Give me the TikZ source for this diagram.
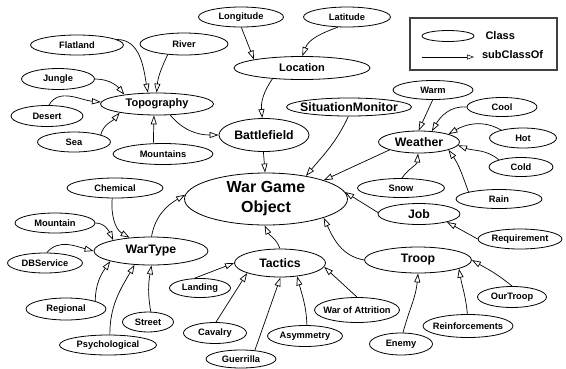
\documentclass[tikz,border=0pt]{standalone}
\usepackage{fontspec}
\setmainfont{Liberation Sans}
\usetikzlibrary{arrows.meta,shapes.geometric}
\tikzset{
  cls/.style={ellipse,draw,line width=0.8pt,inner xsep=-6pt,inner ysep=0pt,minimum height=20pt,font=\fontsize{9.3}{11}\selectfont\bfseries},
  mcls/.style={cls,font=\fontsize{11}{13}\selectfont\bfseries},
  bcls/.style={cls,font=\fontsize{12.3}{14}\selectfont\bfseries},
  sub/.style={-{Triangle[open,length=9pt,width=6pt]},line width=0.7pt},
}
\begin{document}
\begin{tikzpicture}[x=1pt,y=1pt]
  \useasboundingbox (0,0) rectangle (566,-368);
  % top left: topography and location
  \node[cls,minimum width=93pt] (flatland) at (77,-45) {Flatland};
  \node[cls,minimum width=88pt,minimum height=22pt] (river) at (184,-44) {River};
  \node[cls,minimum width=73pt,minimum height=21pt] (jungle) at (58,-79) {Jungle};
  \node[mcls,minimum width=113pt,minimum height=22pt] (topography) at (157,-104) {Topography};
  \node[cls,minimum width=72pt,minimum height=21pt] (desert) at (47,-116) {Desert};
  \node[cls,minimum width=73pt] (sea) at (74,-142) {Sea};
  \node[cls,minimum width=100pt,minimum height=21pt] (mountains) at (163,-154) {Mountains};
  \node[bcls,minimum width=90pt,minimum height=33pt] (battlefield) at (264,-135) {Battlefield};
  \node[mcls,minimum width=136pt,minimum height=23pt] (location) at (302,-68) {Location};
  \node[cls,minimum width=85pt] (longitude) at (241,-17) {Longitude};
  \node[cls,minimum width=87pt] (latitude) at (347,-17) {Latitude};
  \node[bcls,minimum width=125pt,minimum height=18pt] (monitor) at (349,-107) {SituationMonitor};
  % right: weather, job, troop
  \node[cls,minimum width=80pt,minimum height=19pt] (warm) at (433,-90) {Warm};
  \node[cls,minimum width=70pt,minimum height=19pt] (cool) at (502,-107) {Cool};
  \node[cls,minimum width=67pt] (hot) at (523,-138) {Hot};
  \node[cls,minimum width=64pt,minimum height=19pt] (cold) at (521,-167) {Cold};
  \node[bcls,minimum width=81pt,minimum height=22pt] (weather) at (419,-142) {Weather};
  \node[cls,minimum width=87pt,minimum height=19pt] (snow) at (401,-188) {Snow};
  \node[cls,minimum width=86pt,minimum height=19pt] (rain) at (499,-199) {Rain};
  \node[bcls,minimum width=82pt,minimum height=21pt] (job) at (419,-214) {Job};
  \node[cls,minimum width=84pt] (requirement) at (520,-239) {Requirement};
  \node[bcls,minimum width=107pt,minimum height=26pt] (troop) at (418,-260) {Troop};
  \node[cls,minimum width=69pt,minimum height=21pt] (ourtroop) at (512,-297) {OurTroop};
  \node[cls,minimum width=90pt,minimum height=23pt] (reinforcements) at (468,-326) {Reinforcements};
  \node[cls,minimum width=63pt,minimum height=22pt] (enemy) at (401,-344) {Enemy};
  % bottom: tactics
  \node[cls,minimum width=85pt,minimum height=25pt] (attrition) at (357,-310) {War of Attrition};
  \node[cls,minimum width=75pt,minimum height=21pt] (asymmetry) at (305,-336) {Asymmetry};
  \node[cls,minimum width=70pt,minimum height=18pt] (guerrilla) at (241,-359) {Guerrilla};
  \node[cls,minimum width=63pt,minimum height=21pt] (cavalry) at (215,-333) {Cavalry};
  \node[cls,minimum width=61pt,minimum height=19pt] (landing) at (200,-288) {Landing};
  \node[bcls,minimum width=91pt,minimum height=28pt] (tactics) at (280,-263) {Tactics};
  \node[cls,font=\fontsize{16}{20}\selectfont\bfseries,align=center,minimum width=163pt,minimum height=52pt] (wgo) at (266,-199) {War Game\\Object};
  % left: war type
  \node[cls,minimum width=96pt] (chemical) at (115,-188) {Chemical};
  \node[cls,minimum width=80pt] (mountain) at (55,-223) {Mountain};
  \node[bcls,minimum width=114pt,minimum height=28pt] (wartype) at (151,-251) {WarType};
  \node[cls,minimum width=75pt] (dbservice) at (45,-263) {DBService};
  \node[cls,minimum width=80pt,minimum height=22pt] (regional) at (66,-309) {Regional};
  \node[cls,minimum width=51pt] (street) at (148,-322) {Street};
  \node[cls,minimum width=97pt] (psychological) at (108,-345) {Psychological};
  % legend
  \node[draw=black!75,line width=1.2pt,minimum width=147pt,minimum height=52pt] (legend) at (483.5,-44) {};
  \node[cls,minimum width=52pt,minimum height=11pt] (legclass) at (448,-36) {};
  \node[anchor=west,font=\fontsize{11}{13}\selectfont\bfseries] (legclasstxt) at (482,-36) {Class};
  \coordinate (legfrom) at (422,-57);
  \coordinate (legto) at (474,-57);
  \draw[sub,line width=0.5pt,-{Triangle[open,length=7pt,width=5pt]}] (legfrom) -- (legto);
  \node[anchor=west,font=\fontsize{11}{13}\selectfont\bfseries] (legsubtxt) at (478.5,-55) {subClassOf};
  % subClassOf links
  \draw[sub] (flatland.8) to[out=0,in=100] (topography.129);
  \draw[sub] (river.213) to[out=245,in=85] (topography.92);
  \draw[sub] (jungle.0) to[out=0,in=130] (topography.164);
  \draw[sub] (desert.80) to[out=60,in=175] (topography.178);
  \draw[sub] (sea.15) to[out=75,in=230] (topography.193);
  \draw[sub] (mountains.132) -- (topography.255);
  \draw[sub] (topography.320) to[out=-50,in=180] (battlefield.180);
  \draw[sub] (longitude.272) -- (location.170);
  \draw[sub] (latitude.228) to[out=200,in=70] (location.88);
  \draw[sub] (location.200) to[out=235,in=95] (battlefield.96);
  \draw[sub] (battlefield.268) -- (wgo.92);
  \draw[sub] (monitor.266) to[out=245,in=50] (wgo.30);
  \draw[sub] (weather.195) -- (wgo.18);
  \draw[sub] (warm.268) -- (weather.92);
  \draw[sub] (cool.180) to[out=175,in=60] (weather.40);
  \draw[sub] (hot.160) to[out=150,in=30] (weather.15);
  \draw[sub] (cold.162) to[out=140,in=-20] (weather.355);
  \draw[sub] (snow.85) to[out=55,in=265] (weather.265);
  \draw[sub] (rain.167) to[out=110,in=-55] (weather.345);
  \draw[sub] (job.178) -- (wgo.5);
  \draw[sub] (requirement.180) -- (job.344);
  \draw[sub] (troop.180) to[out=170,in=-65] (wgo.342);
  \draw[sub] (ourtroop.90) to[out=140,in=-30] (troop.0);
  \draw[sub] (reinforcements.93) to[out=95,in=-80] (troop.348);
  \draw[sub] (enemy.80) to[out=75,in=265] (troop.270);
  \draw[sub] (tactics.90) to[out=110,in=-65] (wgo.267);
  \draw[sub] (landing.120) -- (tactics.180);
  \draw[sub] (cavalry.85) -- (tactics.197);
  \draw[sub] (guerrilla.32) -- (tactics.272);
  \draw[sub] (asymmetry.80) to[out=92,in=285] (tactics.322);
  \draw[sub] (attrition.90) -- (tactics.355);
  \draw[sub] (wartype.88) to[out=80,in=210] (wgo.177);
  \draw[sub] (chemical.255) to[out=265,in=150] (wartype.148);
  \draw[sub] (mountain.0) to[out=0,in=115] (wartype.164);
  \draw[sub] (dbservice.80) to[out=50,in=165] (wartype.180);
  \draw[sub] (regional.15) to[out=90,in=235] (wartype.194);
  \draw[sub] (psychological.80) to[out=90,in=240] (wartype.220);
  \draw[sub] (street.75) to[out=100,in=260] (wartype.272);
\end{tikzpicture}
\end{document}
